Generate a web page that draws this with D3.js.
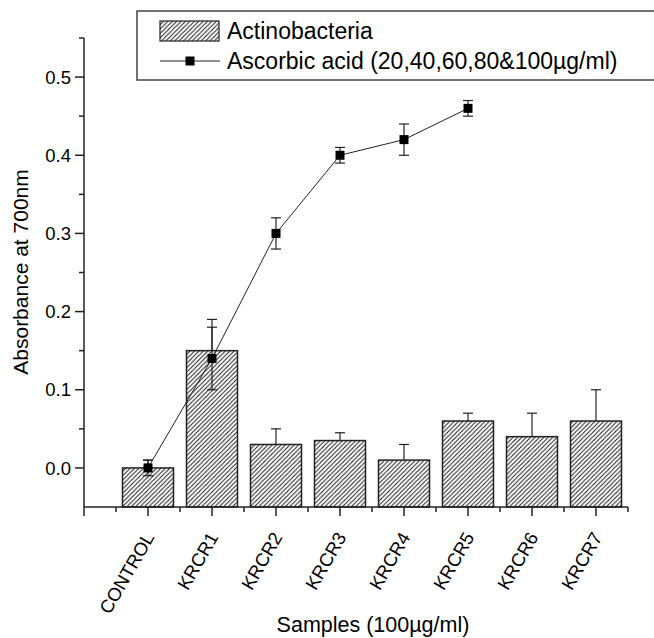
<!DOCTYPE html>
<html><head><meta charset="utf-8">
<script src="https://cdn.jsdelivr.net/npm/d3@7"></script>
<style>body{margin:0;background:#fff}svg{display:block}text{font-family:"Liberation Sans",Arial,sans-serif;fill:#000}</style>
</head><body>
<script>
const categories = ["CONTROL","KRCR1","KRCR2","KRCR3","KRCR4","KRCR5","KRCR6","KRCR7"];
const actinoValues = [0.0, 0.15, 0.03, 0.035, 0.01, 0.06, 0.04, 0.06];
const actinoErrors = [0.01, 0.04, 0.02, 0.01, 0.02, 0.01, 0.03, 0.04];
const ascorbicCategories = ["CONTROL","KRCR1","KRCR2","KRCR3","KRCR4","KRCR5"];
const ascorbicValues = [0.0, 0.14, 0.30, 0.40, 0.42, 0.46];
const ascorbicErrors = [0.01, 0.04, 0.02, 0.01, 0.02, 0.01];
const yTickValues = [0.0, 0.1, 0.2, 0.3, 0.4, 0.5];
const yTickLabels = ["0.0","0.1","0.2","0.3","0.4","0.5"];
const yMinorTicks = [0.05, 0.15, 0.25, 0.35, 0.45, 0.55];
const legendLabels = ["Actinobacteria", "Ascorbic acid (20,40,60,80&100\u00b5g/ml)"];
const xTitle = "Samples (100\u00b5g/ml)";
const yTitle = "Absorbance at 700nm";

const W = 654, H = 638;
const svg = d3.select("body").append("svg").attr("width", W).attr("height", H);
const x = d3.scaleLinear().domain([-1, 7.5]).range([84, 628]);
const y = d3.scaleLinear().domain([-0.05, 0.55]).range([507, 38]);
const idx = c => categories.indexOf(c);
const barW = 51;
const ink = "#222";

const defs = svg.append("defs");
const pat = defs.append("pattern").attr("id","hatch").attr("patternUnits","userSpaceOnUse")
  .attr("width",4.4).attr("height",4.4);
pat.append("rect").attr("width",4.4).attr("height",4.4).attr("fill","#fff");
pat.append("path").attr("d","M0,4.4L4.4,0M-1.1,1.1L1.1,-1.1M3.3,5.5L5.5,3.3")
  .attr("stroke","#1a1a1a").attr("stroke-width",1);

// bars
const g = svg.append("g");
g.selectAll("rect.bar").data(actinoValues).join("rect").attr("class","bar")
  .attr("x",(d,i)=>x(i)-barW/2).attr("width",barW)
  .attr("y",d=>y(d)).attr("height",d=>y(-0.05)-y(d))
  .attr("fill","url(#hatch)").attr("stroke",ink).attr("stroke-width",1.5);
// bar error bars (upper)
actinoValues.forEach((v,i)=>{
  const cx = x(i);
  g.append("line").attr("x1",cx).attr("x2",cx).attr("y1",y(v)).attr("y2",y(v+actinoErrors[i])).attr("stroke",ink).attr("stroke-width",1.2);
  g.append("line").attr("x1",cx-5).attr("x2",cx+5).attr("y1",y(v+actinoErrors[i])).attr("y2",y(v+actinoErrors[i])).attr("stroke",ink).attr("stroke-width",1.2);
});

// ascorbic line
const pts = ascorbicCategories.map((c,i)=>({i:idx(c), v:ascorbicValues[i], e:ascorbicErrors[i]}));
g.append("path").datum(pts).attr("fill","none").attr("stroke",ink).attr("stroke-width",1)
  .attr("d", d3.line().x(d=>x(d.i)).y(d=>y(d.v)));
pts.forEach(p=>{
  const cx = x(p.i);
  g.append("line").attr("x1",cx).attr("x2",cx).attr("y1",y(p.v-p.e)).attr("y2",y(p.v+p.e)).attr("stroke",ink).attr("stroke-width",1.2);
  [p.v-p.e, p.v+p.e].forEach(t=>g.append("line").attr("x1",cx-5).attr("x2",cx+5).attr("y1",y(t)).attr("y2",y(t)).attr("stroke",ink).attr("stroke-width",1.2));
  g.append("rect").attr("x",cx-4.5).attr("y",y(p.v)-4.5).attr("width",9).attr("height",9).attr("fill","#000");
});

// axes
const yAxis = svg.append("g").attr("transform",`translate(${x(-1)},0)`);
yAxis.append("line").attr("x1",0).attr("x2",0).attr("y1",y(0.55)).attr("y2",y(-0.05)).attr("stroke",ink).attr("stroke-width",1.5);
yAxis.call(g2=>{
  g2.selectAll("line.maj").data(yTickValues).join("line").attr("class","maj")
    .attr("x1",-9).attr("x2",0).attr("y1",d=>y(d)).attr("y2",d=>y(d)).attr("stroke",ink).attr("stroke-width",1.5);
  g2.selectAll("line.min").data(yMinorTicks).join("line").attr("class","min")
    .attr("x1",-5).attr("x2",0).attr("y1",d=>y(d)).attr("y2",d=>y(d)).attr("stroke",ink).attr("stroke-width",1.5);
  g2.selectAll("text").data(yTickValues).join("text")
    .attr("x",-13).attr("y",d=>y(d)).attr("dy","0.36em").attr("text-anchor","end")
    .attr("font-size",18.5).text((d,i)=>yTickLabels[i]);
});

const xAxis = svg.append("g").attr("transform",`translate(0,${y(-0.05)})`);
xAxis.append("line").attr("x1",x(-1)).attr("x2",x(7.5)).attr("y1",0).attr("y2",0).attr("stroke",ink).attr("stroke-width",1.5);
const majX = d3.range(-1, 8), minX = d3.range(-0.5, 8, 1);
xAxis.selectAll("line.maj").data(majX).join("line").attr("class","maj")
  .attr("x1",d=>x(d)).attr("x2",d=>x(d)).attr("y1",0).attr("y2",9).attr("stroke",ink).attr("stroke-width",1.5);
xAxis.selectAll("line.min").data(minX).join("line").attr("class","min")
  .attr("x1",d=>x(d)).attr("x2",d=>x(d)).attr("y1",0).attr("y2",5).attr("stroke",ink).attr("stroke-width",1.5);
xAxis.selectAll("text").data(categories).join("text")
  .attr("transform",(d,i)=>`translate(${x(i)+7},${30}) rotate(-60)`)
  .attr("text-anchor","end").attr("font-size",18.5).text(d=>d);

// titles
svg.append("text").attr("transform","translate(28,272) rotate(-90)").attr("text-anchor","middle")
  .attr("font-size",21).text(yTitle);
svg.append("text").attr("x",373).attr("y",632).attr("text-anchor","middle").attr("font-size",21.5).text(xTitle);

// legend
const lg = svg.append("g");
lg.append("rect").attr("x",137).attr("y",11).attr("width",530).attr("height",69).attr("fill","#fff").attr("stroke","#444").attr("stroke-width",1.5);
lg.append("rect").attr("x",160).attr("y",21).attr("width",59).attr("height",20).attr("fill","url(#hatch)").attr("stroke",ink).attr("stroke-width",1.2);
lg.append("text").attr("x",227).attr("y",39).attr("font-size",23).text(legendLabels[0]);
lg.append("line").attr("x1",160).attr("x2",220).attr("y1",61).attr("y2",61).attr("stroke",ink).attr("stroke-width",1);
lg.append("rect").attr("x",185.5).attr("y",56.5).attr("width",9).attr("height",9).attr("fill","#000");
lg.append("text").attr("x",227).attr("y",69).attr("font-size",23).text(legendLabels[1]);
</script>
</body></html>
